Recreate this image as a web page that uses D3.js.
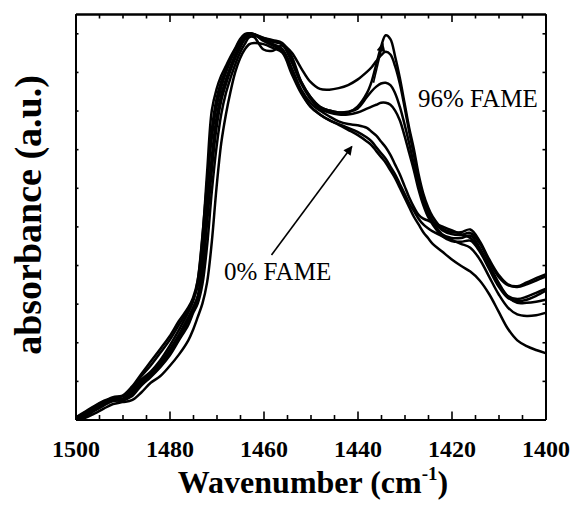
<!DOCTYPE html>
<html>
<head>
<meta charset="utf-8">
<script src="https://cdn.jsdelivr.net/npm/d3@7"></script>
<style>
  body { margin: 0; background: #fff; }
  svg { display: block; }
</style>
</head>
<body>
<svg id="chart" width="572" height="505"></svg>
<script>
// Wavenumber grid (cm-1), shared by all spectra
const wavenumber = [
  1500, 1498, 1496, 1494, 1492, 1490, 1488, 1486, 1484, 1482, 1480, 1478, 1476,
  1475, 1474, 1473, 1472, 1471, 1470, 1469, 1468, 1467, 1466, 1465, 1464, 1463, 1462,
  1460, 1458, 1456, 1454, 1452, 1450, 1448, 1446, 1444, 1442, 1440, 1438,
  1437, 1436, 1435, 1434, 1433, 1432, 1431, 1430, 1429, 1428, 1427, 1426, 1425, 1424,
  1422, 1420, 1418, 1416, 1414, 1412, 1410, 1408, 1406, 1404, 1402, 1400
];

// Normalised absorbance of each spectrum
const spectrumA = [
  0.005, 0.020, 0.035, 0.048, 0.058, 0.062, 0.085, 0.118, 0.150, 0.182, 0.215, 0.255, 0.290,
  0.315, 0.360, 0.470, 0.640, 0.800, 0.855, 0.890, 0.915, 0.940, 0.962, 0.985, 0.998, 1.000, 0.997,
  0.988, 0.982, 0.975, 0.940, 0.875, 0.835, 0.810, 0.800, 0.795, 0.795, 0.810, 0.845,
  0.875, 0.920, 0.965, 0.995, 0.985, 0.940, 0.885, 0.820, 0.755, 0.700, 0.635, 0.585, 0.550, 0.525,
  0.495, 0.485, 0.485, 0.492, 0.462, 0.415, 0.375, 0.350, 0.345, 0.355, 0.366, 0.376
];
const spectrumB = [
  0.002, 0.016, 0.031, 0.043, 0.052, 0.054, 0.075, 0.103, 0.124, 0.153, 0.190, 0.232, 0.278,
  0.305, 0.360, 0.475, 0.615, 0.730, 0.810, 0.860, 0.898, 0.930, 0.958, 0.980, 0.995, 1.000, 0.997,
  0.985, 0.978, 0.972, 0.950, 0.910, 0.874, 0.856, 0.854, 0.858, 0.866, 0.880, 0.900,
  0.912, 0.928, 0.943, 0.952, 0.945, 0.915, 0.870, 0.810, 0.745, 0.685, 0.625, 0.575, 0.540, 0.515,
  0.490, 0.480, 0.478, 0.483, 0.456, 0.410, 0.370, 0.348, 0.343, 0.350, 0.360, 0.370
];
const spectrumC = [
  0.000, 0.012, 0.028, 0.040, 0.052, 0.050, 0.068, 0.098, 0.118, 0.145, 0.180, 0.220, 0.265,
  0.290, 0.320, 0.400, 0.550, 0.680, 0.780, 0.840, 0.880, 0.915, 0.945, 0.970, 0.990, 1.000, 0.998,
  0.988, 0.980, 0.972, 0.930, 0.875, 0.835, 0.810, 0.800, 0.795, 0.797, 0.805, 0.835,
  0.850, 0.862, 0.870, 0.872, 0.866, 0.845, 0.810, 0.765, 0.715, 0.660, 0.610, 0.565, 0.535, 0.510,
  0.480, 0.470, 0.470, 0.476, 0.445, 0.395, 0.350, 0.320, 0.312, 0.318, 0.328, 0.338
];
const spectrumD = [
  0.000, 0.008, 0.022, 0.036, 0.048, 0.050, 0.060, 0.088, 0.110, 0.135, 0.165, 0.205, 0.245,
  0.275, 0.300, 0.350, 0.450, 0.590, 0.705, 0.790, 0.845, 0.885, 0.920, 0.950, 0.972, 0.990, 0.990,
  0.958, 0.955, 0.968, 0.925, 0.870, 0.830, 0.805, 0.795, 0.790, 0.790, 0.795, 0.805,
  0.810, 0.815, 0.820, 0.820, 0.815, 0.800, 0.775, 0.735, 0.690, 0.645, 0.595, 0.555, 0.525, 0.505,
  0.475, 0.462, 0.460, 0.463, 0.435, 0.390, 0.345, 0.315, 0.307, 0.310, 0.320, 0.333
];
const spectrumE = [
  0.004, 0.018, 0.033, 0.046, 0.056, 0.060, 0.082, 0.112, 0.140, 0.172, 0.205, 0.245, 0.285,
  0.310, 0.345, 0.440, 0.600, 0.750, 0.830, 0.875, 0.905, 0.935, 0.958, 0.980, 0.995, 0.999, 0.995,
  0.985, 0.972, 0.960, 0.910, 0.855, 0.820, 0.800, 0.785, 0.772, 0.765, 0.762, 0.755,
  0.745, 0.735, 0.720, 0.705, 0.685, 0.660, 0.635, 0.605, 0.575, 0.550, 0.530, 0.520, 0.515, 0.510,
  0.500, 0.490, 0.480, 0.470, 0.440, 0.400, 0.355, 0.318, 0.302, 0.302, 0.305, 0.310
];
const spectrumF = [
  0.000, 0.012, 0.027, 0.039, 0.050, 0.049, 0.064, 0.093, 0.114, 0.140, 0.172, 0.212, 0.256,
  0.282, 0.312, 0.375, 0.510, 0.645, 0.755, 0.825, 0.868, 0.905, 0.936, 0.962, 0.984, 0.996, 0.997,
  0.980, 0.968, 0.955, 0.900, 0.850, 0.810, 0.790, 0.775, 0.765, 0.755, 0.745, 0.730,
  0.720, 0.705, 0.690, 0.675, 0.655, 0.635, 0.610, 0.585, 0.560, 0.540, 0.520, 0.505, 0.495, 0.487,
  0.475, 0.465, 0.455, 0.445, 0.415, 0.370, 0.325, 0.290, 0.272, 0.268, 0.270, 0.276
];
const spectrumG = [
  0.000, 0.004, 0.015, 0.028, 0.040, 0.045, 0.050, 0.070, 0.095, 0.112, 0.138, 0.168, 0.205,
  0.232, 0.265, 0.300, 0.355, 0.460, 0.600, 0.715, 0.790, 0.850, 0.900, 0.935, 0.958, 0.972, 0.975,
  0.972, 0.962, 0.950, 0.895, 0.845, 0.810, 0.790, 0.775, 0.763, 0.750, 0.737, 0.720,
  0.710, 0.695, 0.680, 0.665, 0.645, 0.625, 0.600, 0.575, 0.550, 0.525, 0.505, 0.485, 0.470, 0.455,
  0.435, 0.415, 0.398, 0.383, 0.360, 0.325, 0.280, 0.235, 0.205, 0.190, 0.180, 0.172
];
const spectra = [spectrumA, spectrumB, spectrumC, spectrumD, spectrumE, spectrumF, spectrumG];

// Axis ticks
const xMajorTicks = [1500, 1480, 1460, 1440, 1420, 1400];
const xMinorTicks = [1495, 1490, 1485, 1475, 1470, 1465, 1455, 1450, 1445, 1435, 1430, 1425, 1415, 1410, 1405];
const yTicks = [0.1, 0.2, 0.3, 0.4, 0.5, 0.6, 0.7, 0.8, 0.9, 1.0];

// Arrow annotations (arrow ends in data units)
const annotations = [
  { label: "96% FAME", tx: 418, ty: 107, from: [1436.6, 0.872], to: [1434.6, 0.974] },
  { label: "0% FAME",  tx: 224, ty: 280, from: [1458.3, 0.426], to: [1441.2, 0.707] }
];

const plot = { left: 75.5, right: 545.5, top: 14, bottom: 419.5 };
const serif = "'Liberation Serif', 'Times New Roman', Times, serif";

const svg = d3.select("#chart");

const x = d3.scaleLinear().domain([1500, 1400]).range([plot.left, plot.right]);
const y = d3.scaleLinear().domain([0, 1.05]).range([plot.bottom, plot.top]);

// arrow head
svg.append("defs").append("marker")
  .attr("id", "head")
  .attr("viewBox", "0 0 10 10")
  .attr("refX", 9).attr("refY", 5)
  .attr("markerWidth", 12).attr("markerHeight", 9)
  .attr("markerUnits", "userSpaceOnUse")
  .attr("orient", "auto")
  .append("path").attr("d", "M0,0 L10,5 L0,10 z").attr("fill", "#000");

// spectra
svg.append("clipPath").attr("id", "plotclip")
  .append("rect")
  .attr("x", plot.left).attr("y", plot.top)
  .attr("width", plot.right - plot.left).attr("height", plot.bottom - plot.top);

const line = d3.line()
  .x((d, i) => x(wavenumber[i]))
  .y(d => y(d))
  .curve(d3.curveCatmullRom.alpha(0.5));

svg.append("g").attr("clip-path", "url(#plotclip)")
  .selectAll("path")
  .data(spectra)
  .join("path")
  .attr("d", line)
  .attr("fill", "none")
  .attr("stroke", "#000")
  .attr("stroke-width", 2.5)
  .attr("stroke-linejoin", "round");

// axes with inward ticks
function styleAxis(g) {
  g.select(".domain").attr("stroke-width", 2);
  g.selectAll(".tick line").attr("stroke-width", 1.6);
}

svg.append("g")
  .attr("transform", `translate(0,${plot.bottom})`)
  .call(d3.axisBottom(x).tickValues(xMinorTicks).tickSizeInner(-4.5).tickSizeOuter(0).tickFormat(""))
  .call(styleAxis);

const xb = svg.append("g")
  .attr("transform", `translate(0,${plot.bottom})`)
  .call(d3.axisBottom(x).tickValues(xMajorTicks).tickSizeInner(-8).tickSizeOuter(0).tickPadding(20).tickFormat(d3.format("d")))
  .call(styleAxis);
xb.attr("font-family", serif).attr("font-size", 24).attr("font-weight", "bold");
xb.selectAll("text").attr("fill", "#000");

svg.append("g")
  .attr("transform", `translate(0,${plot.top})`)
  .call(d3.axisTop(x).tickValues(xMinorTicks).tickSizeInner(-4.5).tickSizeOuter(0).tickFormat(""))
  .call(styleAxis);
svg.append("g")
  .attr("transform", `translate(0,${plot.top})`)
  .call(d3.axisTop(x).tickValues(xMajorTicks).tickSizeInner(-8).tickSizeOuter(0).tickFormat(""))
  .call(styleAxis);

svg.append("g")
  .attr("transform", `translate(${plot.left},0)`)
  .call(d3.axisLeft(y).tickValues(yTicks).tickSizeInner(-3).tickSizeOuter(0).tickFormat(""))
  .call(styleAxis);
svg.append("g")
  .attr("transform", `translate(${plot.right},0)`)
  .call(d3.axisRight(y).tickValues(yTicks).tickSizeInner(-3).tickSizeOuter(0).tickFormat(""))
  .call(styleAxis);

// axis titles
const xt = svg.append("text")
  .attr("x", 313)
  .attr("y", 493)
  .attr("text-anchor", "middle")
  .attr("font-family", serif)
  .attr("font-weight", "bold")
  .attr("font-size", 32)
  .attr("fill", "#000");
xt.append("tspan").text("Wavenumber (cm");
xt.append("tspan").attr("font-size", 19).attr("dy", -13).text("-1");
xt.append("tspan").attr("dy", 13).text(")");

svg.append("text")
  .attr("transform", "translate(41,215) rotate(-90)")
  .attr("text-anchor", "middle")
  .attr("font-family", serif)
  .attr("font-weight", "bold")
  .attr("font-size", 38)
  .attr("fill", "#000")
  .text("absorbance (a.u.)");

// annotations
const ann = svg.append("g");
annotations.forEach(a => {
  ann.append("line")
    .attr("x1", x(a.from[0])).attr("y1", y(a.from[1]))
    .attr("x2", x(a.to[0])).attr("y2", y(a.to[1]))
    .attr("stroke", "#000").attr("stroke-width", 1.6)
    .attr("marker-end", "url(#head)");
  ann.append("text")
    .attr("x", a.tx).attr("y", a.ty)
    .attr("font-family", serif)
    .attr("font-size", 25)
    .attr("fill", "#000")
    .text(a.label);
});
</script>
</body>
</html>
